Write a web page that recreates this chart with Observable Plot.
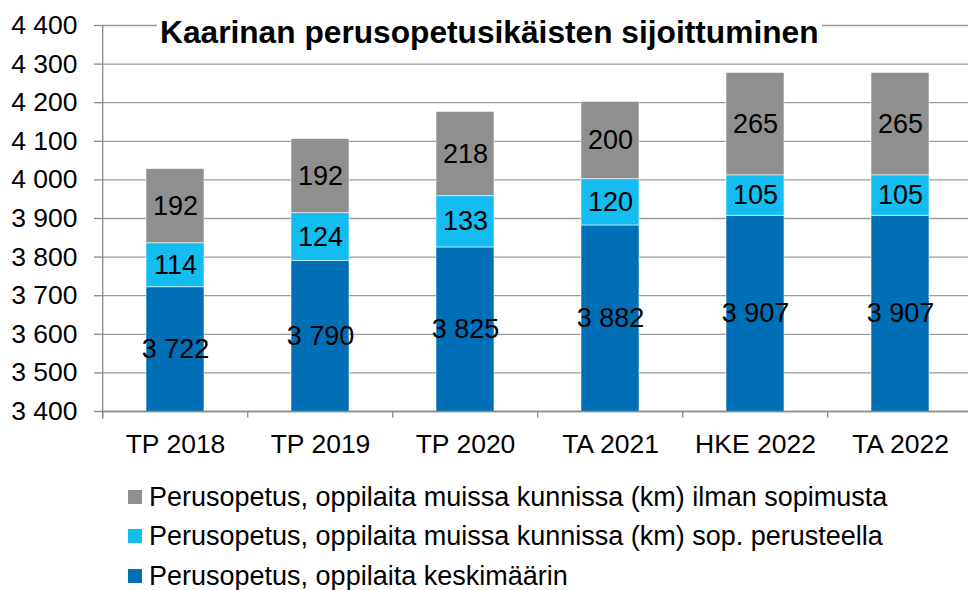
<!DOCTYPE html>
<html>
<head>
<meta charset="utf-8">
<script src="https://cdn.jsdelivr.net/npm/d3@7"></script>
<script src="https://cdn.jsdelivr.net/npm/@observablehq/plot@0.6"></script>
<style>
  html, body { margin: 0; padding: 0; background: white; overflow: hidden; }
  #wrap { position: relative; width: 968px; height: 590px; font-family: "Liberation Sans", Arial, sans-serif; }
  #title { position: absolute; left: 157px; top: 14px; background: white; font-size: 31.7px; font-weight: bold; color: #000; padding: 0 3px; line-height: 36px; white-space: nowrap; }
  #legend { position: absolute; left: 128px; top: 477px; font-size: 27px; line-height: 30px; color: #000; }
  .row { display: flex; align-items: center; height: 39.5px; white-space: nowrap; }
  .sw { width: 14px; height: 14px; margin-right: 7px; flex: none; }
</style>
</head>
<body>
<div id="wrap">
  <div id="chart"></div>
  <div id="title"></div>
  <div id="legend"></div>
</div>
<script>
const title = "Kaarinan perusopetusikäisten sijoittuminen";
const categories = ["TP 2018", "TP 2019", "TP 2020", "TA 2021", "HKE 2022", "TA 2022"];
const keskimaarin = [3722, 3790, 3825, 3882, 3907, 3907];
const sopPerusteella = [114, 124, 133, 120, 105, 105];
const ilmanSopimusta = [192, 192, 218, 200, 265, 265];
const seriesNames = [
  "Perusopetus, oppilaita keskimäärin",
  "Perusopetus, oppilaita muissa kunnissa (km) sop. perusteella",
  "Perusopetus, oppilaita muissa kunnissa (km) ilman sopimusta"
];
const seriesColors = ["#006FB6", "#13BDF0", "#8F8F8F"];
const yTicks = [3400, 3500, 3600, 3700, 3800, 3900, 4000, 4100, 4200, 4300, 4400];

const fi = d3.formatLocale({decimal: ",", thousands: " ", grouping: [3], currency: ["", " €"]});
const fmt = fi.format(",d");

const seriesValues = [keskimaarin, sopPerusteella, ilmanSopimusta];
const yMin = yTicks[0], yMax = yTicks[yTicks.length - 1];
const rows = [];
categories.forEach((cat, i) => {
  let acc = 0;
  seriesValues.forEach((vals, s) => {
    const v = vals[i];
    rows.push({cat, series: seriesNames[s], value: v, y1: acc, y2: acc + v,
               ym: (Math.max(acc, yMin) + acc + v) / 2});
    acc += v;
  });
});

const left = 101, step = 145.6;
const xRange = [left, left + step * categories.length];

const chart = Plot.plot({
  width: 968,
  height: 466,
  marginLeft: left,
  marginRight: 0,
  marginTop: 25,
  marginBottom: 55,
  style: {fontFamily: "'Liberation Sans', Arial, sans-serif", fontSize: "26px", color: "#000", background: "white"},
  x: {type: "band", domain: categories, range: xRange, paddingInner: 0.6, paddingOuter: 0.3, label: null},
  y: {domain: [yMin, yMax], label: null},
  color: {domain: seriesNames, range: seriesColors},
  marks: [
    Plot.gridY(yTicks, {stroke: "#9a9a9a", strokeOpacity: 1, strokeWidth: 1.3}),
    Plot.barY(rows, {x: "cat", y1: "y1", y2: "y2", fill: "series", stroke: "#ffffff", strokeOpacity: 0.55, strokeWidth: 1, clip: true}),
    Plot.text(rows, {x: "cat", y: "ym", text: d => fmt(d.value), fontSize: 27, fill: "#000"}),
    Plot.ruleY([yMin], {stroke: "#8a8a8a", strokeWidth: 1.3}),
    Plot.ruleX([categories[0]], {x: d => d, dx: -step / 2, y1: yMin - 20, y2: yMax, stroke: "#8a8a8a", strokeWidth: 1.3}),
    Plot.ruleX(categories, {x: d => d, dx: -step / 2, y1: yMin, y2: yMin - 17, stroke: "#8a8a8a", strokeWidth: 1.3}),
    Plot.axisY(yTicks, {tickSize: 7, tickPadding: 17, tickFormat: fmt, fontSize: 26.5, stroke: "#8a8a8a", strokeWidth: 1.3, fill: "#000"}),
    Plot.axisX({tickSize: 0, tickPadding: 23, fontSize: 26.5, fill: "#000"})
  ]
});
document.getElementById("chart").appendChild(chart);
document.getElementById("title").textContent = title;

const legend = document.getElementById("legend");
[2, 1, 0].forEach(s => {
  const row = document.createElement("div");
  row.className = "row";
  const sw = document.createElement("span");
  sw.className = "sw";
  sw.style.background = seriesColors[s];
  const t = document.createElement("span");
  t.textContent = seriesNames[s];
  row.appendChild(sw); row.appendChild(t);
  legend.appendChild(row);
});
</script>
</body>
</html>
